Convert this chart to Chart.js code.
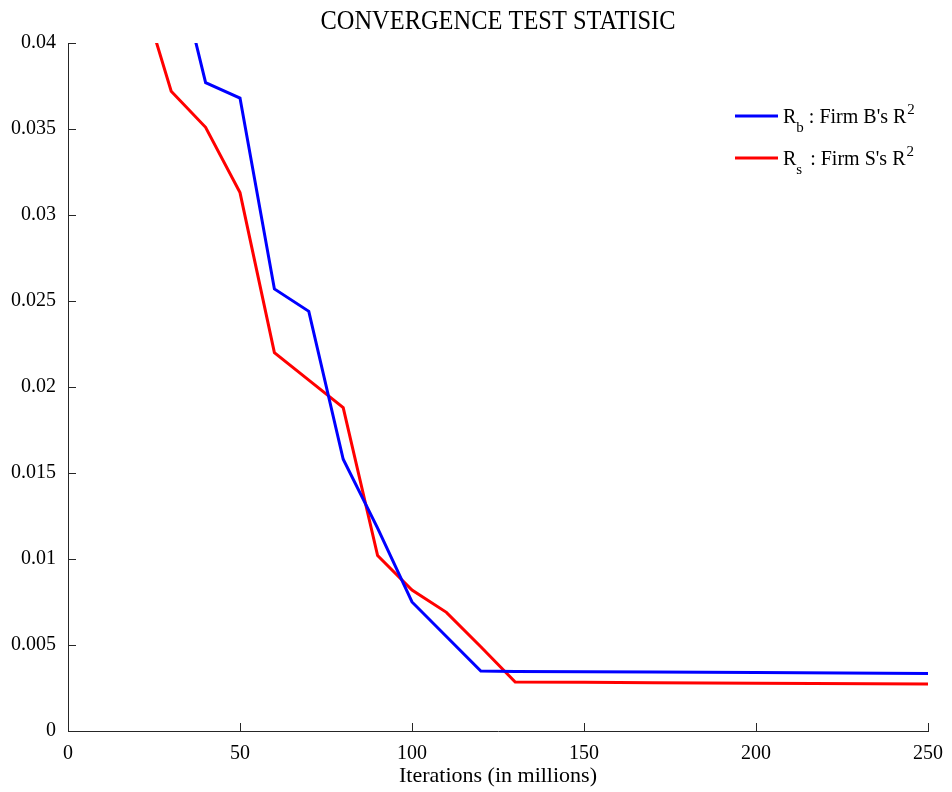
<!DOCTYPE html>
<html>
<head>
<meta charset="utf-8">
<title>Convergence test statistic</title>
<script src="https://cdn.jsdelivr.net/npm/chart.js@4"></script>
<style>
body{margin:0;background:#fff}
#wrap{width:952px;height:792px}
</style>
</head>
<body>
<div id="wrap"><canvas id="chart"></canvas></div>
<script>
/* ====================================
   DATA
==================================== */

const chartTitle="CONVERGENCE TEST STATISIC"
const xTitle="Iterations (in millions)"

// Firm B (blue)
const iterB=[30,40,50,60,70,80,90,100,120,130,150,170,200,250]
const r2B=[0.0459,0.0377,0.0368,0.0257,0.0244,0.0158,0.0118,0.0075,0.00349,0.00346,0.00345,0.00343,0.0034,0.00334]

// Firm S (red)
const iterS=[20,30,40,50,60,70,80,90,100,110,120,130,150,170,200,250]
const r2S=[0.0438,0.0372,0.0351,0.0313,0.0220,0.0204,0.0188,0.0102,0.0082,0.0069,0.0049,0.00285,0.00283,0.0028,0.00277,0.00273]

// legend pieces: main letter, subscript, rest, superscript
const legendMain=["R","R"]
const legendSub=["b","s"]
const legendRest=[" : Firm B's R"," : Firm S's R"]
const legendSup=["2","2"]

const xTicks=[0,50,100,150,200,250]
const yMax=0.04
const yStep=0.005

const axisColor="#262626"
const serif="'Liberation Serif', 'DejaVu Serif', serif"

function toPoints(xs,ys){
return xs.map((x,i)=>({x:x,y:ys[i]}))
}


/* ====================================
   PLUGINS
==================================== */

// inward tick marks, MATLAB style
const innerTicks={
id:"innerTicks",
afterDatasetsDraw(chart){
const ctx=chart.ctx
const a=chart.chartArea
const xs=chart.scales.x
const ys=chart.scales.y
ctx.save()
ctx.strokeStyle=axisColor
ctx.lineWidth=1
ctx.beginPath()
xs.ticks.forEach(t=>{
const px=Math.round(xs.getPixelForValue(t.value))+0.5
ctx.moveTo(px,a.bottom)
ctx.lineTo(px,a.bottom-8)
})
ys.ticks.forEach(t=>{
const py=Math.round(ys.getPixelForValue(t.value))+0.5
ctx.moveTo(a.left,py)
ctx.lineTo(a.left+8,py)
})
ctx.stroke()
ctx.restore()
}
}

// condensed title and legend with sub/superscripts
const textBits={
id:"textBits",
afterDraw(chart){
const ctx=chart.ctx
const a=chart.chartArea
ctx.save()

// title
ctx.fillStyle="#000"
ctx.font="28px "+serif
ctx.textAlign="center"
ctx.textBaseline="alphabetic"
const w=ctx.measureText(chartTitle).width
const sx=355/w
ctx.translate((a.left+a.right)/2,29)
ctx.scale(sx,1)
ctx.fillText(chartTitle,0,0)
ctx.restore()

// legend
ctx.save()
ctx.textAlign="left"
ctx.textBaseline="alphabetic"
chart.data.datasets.forEach((ds,i)=>{
const y=116+i*42
ctx.strokeStyle=ds.borderColor
ctx.lineWidth=3
ctx.beginPath()
ctx.moveTo(735,y)
ctx.lineTo(778,y)
ctx.stroke()

ctx.fillStyle="#000"
let x=783
ctx.font="20px "+serif
ctx.fillText(legendMain[i],x,y+7)
x+=ctx.measureText(legendMain[i]).width
ctx.font="15px "+serif
ctx.fillText(legendSub[i],x,y+16)
x+=ctx.measureText(legendSub[i]).width+(i==1?3:0)
ctx.font="20px "+serif
ctx.fillText(legendRest[i],x,y+7)
x+=ctx.measureText(legendRest[i]).width
ctx.font="15px "+serif
ctx.fillText(legendSup[i],x+1,y-2)
})
ctx.restore()
}
}


/* ====================================
   CHART
==================================== */

new Chart(document.getElementById("chart"),{

type:"line",

data:{
datasets:[
{
label:"Rb : Firm B's R2",
data:toPoints(iterB,r2B),
borderColor:"#0000ff",
borderWidth:3,
pointRadius:0,
fill:false,
tension:0
},
{
label:"Rs : Firm S's R2",
data:toPoints(iterS,r2S),
borderColor:"#ff0000",
borderWidth:3,
pointRadius:0,
fill:false,
tension:0
}
]
},

options:{
responsive:true,
maintainAspectRatio:false,
animation:false,
layout:{padding:{top:43,right:24,left:0,bottom:0}},
plugins:{
legend:{display:false},
title:{display:false},
tooltip:{enabled:false}
},
scales:{
x:{
type:"linear",
min:0,
max:250,
afterBuildTicks(scale){
scale.ticks=xTicks.map(v=>({value:v}))
},
afterFit(scale){scale.height=61},
grid:{display:false},
border:{display:true,color:axisColor,width:1},
ticks:{
color:"#000",
padding:3,
maxRotation:0,
font:{family:serif,size:20}
},
title:{
display:true,
text:xTitle,
color:"#000",
padding:{top:0,bottom:3},
font:{family:serif,size:22}
}
},
y:{
min:0,
max:yMax,
afterFit(scale){scale.width=68},
grid:{display:false},
border:{display:true,color:axisColor,width:1},
ticks:{
stepSize:yStep,
color:"#000",
padding:4,
font:{family:serif,size:20},
callback:v=>String(+v.toFixed(3))
}
}
}
},

plugins:[innerTicks,textBits]

})
</script>
</body>
</html>
